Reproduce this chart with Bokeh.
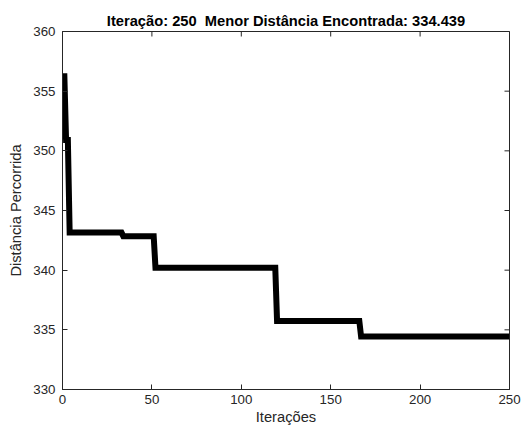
import math
from bokeh.plotting import figure
from bokeh.models import Range1d, FixedTicker, Title
from bokeh.embed import file_html
from bokeh.resources import INLINE

# Data (iteration, best distance)
iteracoes = [1, 2, 3, 4, 33, 34, 51, 52, 119, 120, 166, 167, 250]
distancias = [356.5, 350.9, 350.9, 343.15, 343.15, 342.85, 342.85, 340.2, 340.2,
              335.75, 335.75, 334.439, 334.439]
x_ticks = [0, 50, 100, 150, 200, 250]
y_ticks = [330, 335, 340, 345, 350, 355, 360]
titulo = "Iteração: 250\u00a0 Menor Distância Encontrada: 334.439"

FONT = "Liberation Sans"
AX = "#262626"
X0, X1, Y0, Y1 = 0, 250, 330, 360

p = figure(width=521, height=430, output_backend="svg", toolbar_location=None,
           x_range=Range1d(X0, X1), y_range=Range1d(Y0, Y1),
           min_border_left=62, min_border_right=12, min_border_top=31,
           min_border_bottom=41)
p.add_layout(Title(text=titulo, align="center", text_font=FONT,
                   text_font_size="14.7px", text_font_style="bold",
                   text_color="#000000", standoff=6), "above")

p.line(iteracoes, distancias, line_width=6, line_color="black", line_join="miter")

p.xgrid.visible = False
p.ygrid.visible = False
p.outline_line_color = AX
p.outline_line_width = 1
p.background_fill_color = "white"
p.border_fill_color = "white"

for ax in p.xaxis:
    ax.ticker = FixedTicker(ticks=x_ticks)
    ax.axis_label = "Iterações"
for ax in p.yaxis:
    ax.ticker = FixedTicker(ticks=y_ticks)
    ax.axis_label = "Distância Percorrida"

for ax in list(p.xaxis) + list(p.yaxis):
    ax.major_tick_in = 5
    ax.major_tick_out = 0
    ax.minor_tick_in = 0
    ax.minor_tick_out = 0
    ax.major_tick_line_color = AX
    ax.axis_line_color = AX
    ax.major_label_text_font = FONT
    ax.major_label_text_font_size = "13.3px"
    ax.major_label_text_color = AX
    ax.axis_label_text_font = FONT
    ax.axis_label_text_font_size = "14.7px"
    ax.axis_label_text_font_style = "normal"
    ax.axis_label_text_color = AX
p.xaxis.major_label_standoff = 5
p.xaxis.axis_label_standoff = 2
p.yaxis.major_label_standoff = 7
p.yaxis.axis_label_standoff = 6

# box ticks on the right and top edges (MATLAB style), clipped to the frame
p.scatter(x=[X1] * len(y_ticks), y=y_ticks, marker="dash", size=10,
          line_color=AX, line_width=1)
p.scatter(x=x_ticks, y=[Y1] * len(x_ticks), marker="dash", size=10,
          angle=math.pi / 2, line_color=AX, line_width=1)

open("out.html", "w").write(file_html(p, INLINE))
